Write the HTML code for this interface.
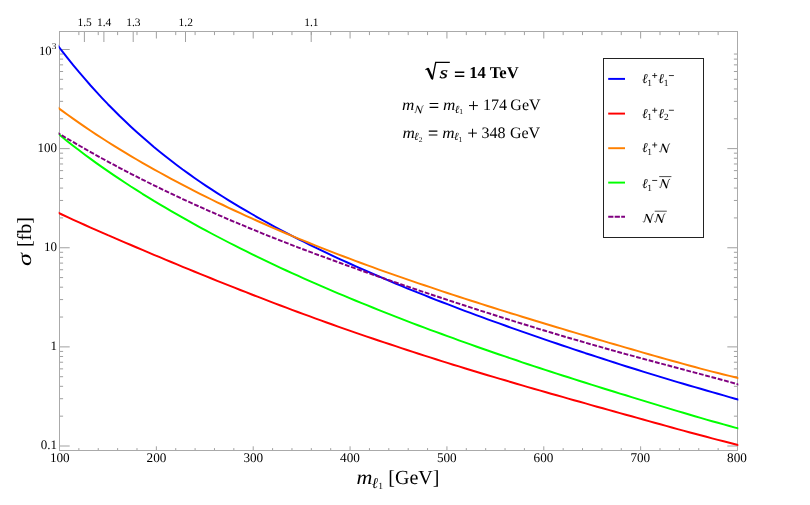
<!DOCTYPE html>
<html><head><meta charset="utf-8"><title>plot</title>
<style>html,body{margin:0;padding:0;background:#fff}svg{display:block;will-change:transform}text{text-rendering:geometricPrecision}text{font-family:"Liberation Serif",serif;fill:#000}.i{font-style:italic}.b{font-weight:bold}</style></head>
<body>
<svg width="810" height="505" viewBox="0 0 810 505">
<rect width="810" height="505" fill="#fff"/>
<defs><clipPath id="c"><rect x="58.7" y="31.5" width="679.6" height="419.0"/></clipPath>
<g id="N"><path d="M0.2 -0.9C0.6 -0.1 1.3 -0.1 1.7 -1.2L3.6 -8.9" fill="none" stroke="#000" stroke-width="0.75" stroke-linecap="round"/><path d="M2.9 -9.3L4.6 -9.3L8.6 -0.6L7.9 0.2L7.2 0.2Z" fill="#000"/><path d="M7.7 0L10.0 -8.3C10.2 -9.0 10.6 -9.3 11.2 -9.4" fill="none" stroke="#000" stroke-width="0.75" stroke-linecap="round"/></g>
</defs>
<path d="M59.50 450.50V446.30M59.50 31.50V38.50M78.87 450.50V448.10M78.87 31.50V35.10M98.24 450.50V448.10M98.24 31.50V35.10M117.61 450.50V448.10M117.61 31.50V35.10M136.99 450.50V448.10M136.99 31.50V35.10M156.36 450.50V446.30M156.36 31.50V38.50M175.73 450.50V448.10M175.73 31.50V35.10M195.10 450.50V448.10M195.10 31.50V35.10M214.47 450.50V448.10M214.47 31.50V35.10M233.84 450.50V448.10M233.84 31.50V35.10M253.21 450.50V446.30M253.21 31.50V38.50M272.59 450.50V448.10M272.59 31.50V35.10M291.96 450.50V448.10M291.96 31.50V35.10M311.33 450.50V448.10M311.33 31.50V35.10M330.70 450.50V448.10M330.70 31.50V35.10M350.07 450.50V446.30M350.07 31.50V38.50M369.44 450.50V448.10M369.44 31.50V35.10M388.81 450.50V448.10M388.81 31.50V35.10M408.19 450.50V448.10M408.19 31.50V35.10M427.56 450.50V448.10M427.56 31.50V35.10M446.93 450.50V446.30M446.93 31.50V38.50M466.30 450.50V448.10M466.30 31.50V35.10M485.67 450.50V448.10M485.67 31.50V35.10M505.04 450.50V448.10M505.04 31.50V35.10M524.41 450.50V448.10M524.41 31.50V35.10M543.79 450.50V446.30M543.79 31.50V38.50M563.16 450.50V448.10M563.16 31.50V35.10M582.53 450.50V448.10M582.53 31.50V35.10M601.90 450.50V448.10M601.90 31.50V35.10M621.27 450.50V448.10M621.27 31.50V35.10M640.64 450.50V446.30M640.64 31.50V38.50M660.01 450.50V448.10M660.01 31.50V35.10M679.39 450.50V448.10M679.39 31.50V35.10M698.76 450.50V448.10M698.76 31.50V35.10M718.13 450.50V448.10M718.13 31.50V35.10M737.50 450.50V446.30M737.50 31.50V38.50M84.40 31.50V42.00M103.90 31.50V42.00M133.20 31.50V42.00M185.50 31.50V42.00M311.20 31.50V42.00M59.50 446.00H69.70M737.50 446.00H727.30M59.50 416.16H63.10M737.50 416.16H733.90M59.50 398.71H63.10M737.50 398.71H733.90M59.50 386.32H63.10M737.50 386.32H733.90M59.50 376.71H63.10M737.50 376.71H733.90M59.50 368.87H63.10M737.50 368.87H733.90M59.50 362.23H63.10M737.50 362.23H733.90M59.50 356.48H63.10M737.50 356.48H733.90M59.50 351.41H63.10M737.50 351.41H733.90M59.50 346.88H69.70M737.50 346.88H727.30M59.50 317.04H63.10M737.50 317.04H733.90M59.50 299.58H63.10M737.50 299.58H733.90M59.50 287.20H63.10M737.50 287.20H733.90M59.50 277.59H63.10M737.50 277.59H733.90M59.50 269.74H63.10M737.50 269.74H733.90M59.50 263.10H63.10M737.50 263.10H733.90M59.50 257.36H63.10M737.50 257.36H733.90M59.50 252.29H63.10M737.50 252.29H733.90M59.50 247.75H69.70M737.50 247.75H727.30M59.50 217.91H63.10M737.50 217.91H733.90M59.50 200.46H63.10M737.50 200.46H733.90M59.50 188.07H63.10M737.50 188.07H733.90M59.50 178.46H63.10M737.50 178.46H733.90M59.50 170.62H63.10M737.50 170.62H733.90M59.50 163.98H63.10M737.50 163.98H733.90M59.50 158.23H63.10M737.50 158.23H733.90M59.50 153.16H63.10M737.50 153.16H733.90M59.50 148.62H69.70M737.50 148.62H727.30M59.50 118.79H63.10M737.50 118.79H733.90M59.50 101.33H63.10M737.50 101.33H733.90M59.50 88.95H63.10M737.50 88.95H733.90M59.50 79.34H63.10M737.50 79.34H733.90M59.50 71.49H63.10M737.50 71.49H733.90M59.50 64.85H63.10M737.50 64.85H733.90M59.50 59.11H63.10M737.50 59.11H733.90M59.50 54.04H63.10M737.50 54.04H733.90M59.50 49.50H69.70" stroke="#a0a0a0" stroke-width="1" fill="none"/>
<rect x="59.5" y="31.5" width="678.0" height="419.0" fill="none" stroke="#aaaaaa" stroke-width="1"/>
<g clip-path="url(#c)" fill="none" stroke-width="1.95" stroke-linejoin="round">
<path d="M56.1 43.3 L61.9 50.8 L67.6 58.1 L73.4 65.3 L79.1 72.2 L84.9 78.9 L90.6 85.5 L96.4 91.9 L102.1 98.1 L107.9 104.2 L113.7 110.0 L119.4 115.8 L125.2 121.3 L130.9 126.7 L136.7 132.0 L142.4 137.1 L148.2 142.1 L153.9 147.0 L159.7 151.7 L165.4 156.3 L171.2 160.8 L177.0 165.2 L182.7 169.5 L188.5 173.6 L194.2 177.7 L200.0 181.7 L205.7 185.6 L211.5 189.4 L217.2 193.1 L223.0 196.8 L228.7 200.4 L234.5 203.9 L240.3 207.3 L246.0 210.7 L251.8 214.0 L257.5 217.3 L263.3 220.5 L269.0 223.7 L274.8 226.8 L280.5 229.9 L286.3 232.9 L292.0 235.8 L297.8 238.8 L303.6 241.7 L309.3 244.5 L315.1 247.3 L320.8 250.1 L326.6 252.9 L332.3 255.6 L338.1 258.3 L343.8 260.9 L349.6 263.5 L355.3 266.1 L361.1 268.7 L366.9 271.2 L372.6 273.7 L378.4 276.2 L384.1 278.7 L389.9 281.1 L395.6 283.5 L401.4 285.9 L407.1 288.3 L412.9 290.6 L418.6 292.9 L424.4 295.2 L430.1 297.5 L435.9 299.8 L441.7 302.0 L447.4 304.2 L453.2 306.4 L458.9 308.6 L464.7 310.8 L470.4 312.9 L476.2 315.1 L481.9 317.2 L487.7 319.3 L493.4 321.4 L499.2 323.4 L505.0 325.5 L510.7 327.6 L516.5 329.6 L522.2 331.6 L528.0 333.6 L533.7 335.6 L539.5 337.6 L545.2 339.6 L551.0 341.6 L556.7 343.5 L562.5 345.5 L568.3 347.4 L574.0 349.3 L579.8 351.2 L585.5 353.2 L591.3 355.0 L597.0 356.9 L602.8 358.8 L608.5 360.7 L614.3 362.5 L620.0 364.4 L625.8 366.2 L631.6 368.0 L637.3 369.8 L643.1 371.6 L648.8 373.4 L654.6 375.1 L660.3 376.9 L666.1 378.6 L671.8 380.4 L677.6 382.1 L683.3 383.8 L689.1 385.5 L694.9 387.1 L700.6 388.8 L706.4 390.5 L712.1 392.1 L717.9 393.8 L723.6 395.4 L729.4 397.1 L735.1 398.7 L740.9 400.4" stroke="#0000ff"/>
<path d="M56.1 211.8 L61.9 214.5 L67.6 217.2 L73.4 219.8 L79.1 222.4 L84.9 225.0 L90.6 227.6 L96.4 230.1 L102.1 232.6 L107.9 235.2 L113.7 237.6 L119.4 240.1 L125.2 242.6 L130.9 245.0 L136.7 247.5 L142.4 249.9 L148.2 252.4 L153.9 254.8 L159.7 257.2 L165.4 259.6 L171.2 262.0 L177.0 264.4 L182.7 266.8 L188.5 269.1 L194.2 271.5 L200.0 273.8 L205.7 276.2 L211.5 278.5 L217.2 280.8 L223.0 283.1 L228.7 285.4 L234.5 287.7 L240.3 290.0 L246.0 292.2 L251.8 294.5 L257.5 296.7 L263.3 298.9 L269.0 301.1 L274.8 303.3 L280.5 305.5 L286.3 307.7 L292.0 309.8 L297.8 312.0 L303.6 314.1 L309.3 316.2 L315.1 318.3 L320.8 320.4 L326.6 322.5 L332.3 324.5 L338.1 326.6 L343.8 328.6 L349.6 330.6 L355.3 332.6 L361.1 334.6 L366.9 336.6 L372.6 338.5 L378.4 340.5 L384.1 342.4 L389.9 344.3 L395.6 346.2 L401.4 348.1 L407.1 350.0 L412.9 351.9 L418.6 353.7 L424.4 355.6 L430.1 357.4 L435.9 359.2 L441.7 361.1 L447.4 362.9 L453.2 364.7 L458.9 366.4 L464.7 368.2 L470.4 370.0 L476.2 371.7 L481.9 373.5 L487.7 375.2 L493.4 376.9 L499.2 378.6 L505.0 380.3 L510.7 382.0 L516.5 383.7 L522.2 385.4 L528.0 387.1 L533.7 388.7 L539.5 390.4 L545.2 392.0 L551.0 393.7 L556.7 395.3 L562.5 396.9 L568.3 398.6 L574.0 400.2 L579.8 401.8 L585.5 403.4 L591.3 405.1 L597.0 406.7 L602.8 408.3 L608.5 409.9 L614.3 411.5 L620.0 413.1 L625.8 414.7 L631.6 416.3 L637.3 417.9 L643.1 419.5 L648.8 421.1 L654.6 422.7 L660.3 424.3 L666.1 425.9 L671.8 427.5 L677.6 429.1 L683.3 430.6 L689.1 432.2 L694.9 433.8 L700.6 435.3 L706.4 436.8 L712.1 438.4 L717.9 439.9 L723.6 441.3 L729.4 442.8 L735.1 444.2 L740.9 445.6" stroke="#ff0000"/>
<path d="M56.1 106.3 L61.9 110.6 L67.6 114.8 L73.4 118.9 L79.1 122.9 L84.9 126.9 L90.6 130.7 L96.4 134.6 L102.1 138.3 L107.9 142.0 L113.7 145.6 L119.4 149.1 L125.2 152.6 L130.9 156.1 L136.7 159.5 L142.4 162.8 L148.2 166.1 L153.9 169.3 L159.7 172.5 L165.4 175.7 L171.2 178.8 L177.0 181.9 L182.7 184.9 L188.5 187.9 L194.2 190.8 L200.0 193.8 L205.7 196.6 L211.5 199.5 L217.2 202.3 L223.0 205.0 L228.7 207.8 L234.5 210.5 L240.3 213.2 L246.0 215.8 L251.8 218.4 L257.5 221.0 L263.3 223.5 L269.0 226.1 L274.8 228.6 L280.5 231.0 L286.3 233.5 L292.0 235.9 L297.8 238.3 L303.6 240.6 L309.3 243.0 L315.1 245.3 L320.8 247.6 L326.6 249.8 L332.3 252.1 L338.1 254.3 L343.8 256.5 L349.6 258.7 L355.3 260.8 L361.1 263.0 L366.9 265.1 L372.6 267.2 L378.4 269.3 L384.1 271.3 L389.9 273.4 L395.6 275.4 L401.4 277.4 L407.1 279.4 L412.9 281.4 L418.6 283.4 L424.4 285.3 L430.1 287.2 L435.9 289.2 L441.7 291.1 L447.4 293.0 L453.2 294.9 L458.9 296.7 L464.7 298.6 L470.4 300.5 L476.2 302.3 L481.9 304.1 L487.7 306.0 L493.4 307.8 L499.2 309.6 L505.0 311.4 L510.7 313.2 L516.5 314.9 L522.2 316.7 L528.0 318.5 L533.7 320.2 L539.5 322.0 L545.2 323.7 L551.0 325.5 L556.7 327.2 L562.5 328.9 L568.3 330.7 L574.0 332.4 L579.8 334.1 L585.5 335.8 L591.3 337.5 L597.0 339.2 L602.8 340.9 L608.5 342.6 L614.3 344.3 L620.0 345.9 L625.8 347.6 L631.6 349.3 L637.3 350.9 L643.1 352.6 L648.8 354.2 L654.6 355.9 L660.3 357.5 L666.1 359.1 L671.8 360.7 L677.6 362.3 L683.3 363.9 L689.1 365.5 L694.9 367.0 L700.6 368.6 L706.4 370.1 L712.1 371.6 L717.9 373.0 L723.6 374.5 L729.4 375.9 L735.1 377.2 L740.9 378.6" stroke="#ff8000"/>
<path d="M56.1 131.9 L61.9 136.7 L67.6 141.4 L73.4 145.9 L79.1 150.3 L84.9 154.7 L90.6 158.9 L96.4 163.1 L102.1 167.1 L107.9 171.1 L113.7 175.1 L119.4 178.9 L125.2 182.7 L130.9 186.5 L136.7 190.1 L142.4 193.8 L148.2 197.3 L153.9 200.9 L159.7 204.3 L165.4 207.7 L171.2 211.1 L177.0 214.4 L182.7 217.7 L188.5 220.9 L194.2 224.1 L200.0 227.3 L205.7 230.4 L211.5 233.5 L217.2 236.5 L223.0 239.5 L228.7 242.5 L234.5 245.4 L240.3 248.4 L246.0 251.2 L251.8 254.1 L257.5 256.9 L263.3 259.6 L269.0 262.4 L274.8 265.1 L280.5 267.8 L286.3 270.5 L292.0 273.1 L297.8 275.7 L303.6 278.3 L309.3 280.8 L315.1 283.4 L320.8 285.9 L326.6 288.4 L332.3 290.8 L338.1 293.3 L343.8 295.7 L349.6 298.1 L355.3 300.5 L361.1 302.8 L366.9 305.2 L372.6 307.5 L378.4 309.8 L384.1 312.1 L389.9 314.4 L395.6 316.6 L401.4 318.9 L407.1 321.1 L412.9 323.3 L418.6 325.5 L424.4 327.6 L430.1 329.8 L435.9 331.9 L441.7 334.0 L447.4 336.1 L453.2 338.2 L458.9 340.3 L464.7 342.4 L470.4 344.4 L476.2 346.5 L481.9 348.5 L487.7 350.5 L493.4 352.5 L499.2 354.5 L505.0 356.4 L510.7 358.4 L516.5 360.3 L522.2 362.3 L528.0 364.2 L533.7 366.1 L539.5 368.0 L545.2 369.9 L551.0 371.7 L556.7 373.6 L562.5 375.5 L568.3 377.3 L574.0 379.2 L579.8 381.0 L585.5 382.8 L591.3 384.6 L597.0 386.4 L602.8 388.2 L608.5 390.0 L614.3 391.8 L620.0 393.6 L625.8 395.3 L631.6 397.1 L637.3 398.9 L643.1 400.6 L648.8 402.4 L654.6 404.1 L660.3 405.9 L666.1 407.6 L671.8 409.4 L677.6 411.1 L683.3 412.8 L689.1 414.5 L694.9 416.2 L700.6 417.9 L706.4 419.6 L712.1 421.2 L717.9 422.8 L723.6 424.4 L729.4 426.0 L735.1 427.6 L740.9 429.1" stroke="#00ff00"/>
<path d="M56.1 131.9 L61.9 135.4 L67.6 138.8 L73.4 142.2 L79.1 145.5 L84.9 148.8 L90.6 152.1 L96.4 155.3 L102.1 158.5 L107.9 161.6 L113.7 164.7 L119.4 167.8 L125.2 170.8 L130.9 173.8 L136.7 176.7 L142.4 179.6 L148.2 182.5 L153.9 185.3 L159.7 188.1 L165.4 190.9 L171.2 193.7 L177.0 196.4 L182.7 199.1 L188.5 201.7 L194.2 204.3 L200.0 206.9 L205.7 209.5 L211.5 212.0 L217.2 214.5 L223.0 217.0 L228.7 219.5 L234.5 221.9 L240.3 224.3 L246.0 226.7 L251.8 229.1 L257.5 231.4 L263.3 233.8 L269.0 236.1 L274.8 238.3 L280.5 240.6 L286.3 242.8 L292.0 245.1 L297.8 247.3 L303.6 249.5 L309.3 251.6 L315.1 253.8 L320.8 255.9 L326.6 258.0 L332.3 260.1 L338.1 262.2 L343.8 264.3 L349.6 266.4 L355.3 268.4 L361.1 270.5 L366.9 272.5 L372.6 274.5 L378.4 276.5 L384.1 278.5 L389.9 280.5 L395.6 282.5 L401.4 284.5 L407.1 286.4 L412.9 288.4 L418.6 290.3 L424.4 292.2 L430.1 294.2 L435.9 296.1 L441.7 298.0 L447.4 299.9 L453.2 301.8 L458.9 303.6 L464.7 305.5 L470.4 307.4 L476.2 309.2 L481.9 311.1 L487.7 312.9 L493.4 314.7 L499.2 316.6 L505.0 318.4 L510.7 320.2 L516.5 322.0 L522.2 323.8 L528.0 325.5 L533.7 327.3 L539.5 329.1 L545.2 330.8 L551.0 332.5 L556.7 334.3 L562.5 336.0 L568.3 337.7 L574.0 339.4 L579.8 341.0 L585.5 342.7 L591.3 344.4 L597.0 346.0 L602.8 347.6 L608.5 349.3 L614.3 350.9 L620.0 352.5 L625.8 354.1 L631.6 355.6 L637.3 357.2 L643.1 358.8 L648.8 360.3 L654.6 361.9 L660.3 363.4 L666.1 364.9 L671.8 366.5 L677.6 368.0 L683.3 369.5 L689.1 371.1 L694.9 372.6 L700.6 374.1 L706.4 375.7 L712.1 377.2 L717.9 378.8 L723.6 380.3 L729.4 381.9 L735.1 383.5 L740.9 385.2" stroke="#800080" stroke-dasharray="4.8 1.7"/>
</g>
<text x="84.6" y="25.9" font-size="11.5" text-anchor="middle">1.5</text>
<text x="104.1" y="25.9" font-size="11.5" text-anchor="middle">1.4</text>
<text x="133.4" y="25.9" font-size="11.5" text-anchor="middle">1.3</text>
<text x="185.7" y="25.9" font-size="11.5" text-anchor="middle">1.2</text>
<text x="311.4" y="25.9" font-size="11.5" text-anchor="middle">1.1</text>
<text x="59.8" y="462.1" font-size="13.2" text-anchor="middle">100</text>
<text x="156.5" y="462.1" font-size="13.2" text-anchor="middle">200</text>
<text x="253.3" y="462.1" font-size="13.2" text-anchor="middle">300</text>
<text x="350.0" y="462.1" font-size="13.2" text-anchor="middle">400</text>
<text x="446.8" y="462.1" font-size="13.2" text-anchor="middle">500</text>
<text x="543.5" y="462.1" font-size="13.2" text-anchor="middle">600</text>
<text x="640.3" y="462.1" font-size="13.2" text-anchor="middle">700</text>
<text x="737.0" y="462.1" font-size="13.2" text-anchor="middle">800</text>
<text x="57.0" y="151.6" font-size="13" text-anchor="end">100</text>
<text x="57.0" y="250.8" font-size="13" text-anchor="end">10</text>
<text x="57.0" y="349.9" font-size="13" text-anchor="end">1</text>
<text x="57.0" y="449.0" font-size="13" text-anchor="end">0.1</text>
<text x="51.7" y="54.5" font-size="12.7" text-anchor="end">10</text>
<text x="52.0" y="49.3" font-size="8.8">3</text>
<text transform="translate(356.61 483.60) scale(1.100 1)" font-size="20" class="i">m</text>
<text x="371.69" y="488.30" font-size="15" class="i">ℓ</text>
<text x="378.17" y="488.90" font-size="9.5">1</text>
<text x="388.32" y="483.60" font-size="20">[GeV]</text>
<text transform="translate(31.40 265.97) rotate(-90) scale(1.300 1)" font-size="20" class="i">σ</text>
<text transform="translate(31.40 247.08) rotate(-90) scale(1.000 1)" font-size="20">[fb]</text>
<path d="M425.5 69.8L428.2 68.2" fill="none" stroke="#000" stroke-width="1.2"/>
<path d="M427.7 68.2L432.3 78.8" fill="none" stroke="#000" stroke-width="2.4"/>
<path d="M432.3 79.6L435.7 62.4H449.8" fill="none" stroke="#000" stroke-width="1.35"/>
<text stroke="#000" stroke-width="0.2" transform="translate(439.44 78.10) scale(1.300 1)" font-size="16.6" class="i">s</text>
<path d="M454.90 72.25H464.30M454.90 76.15H464.30" stroke="#000" stroke-width="1.50"/>
<text x="469.17" y="78.10" font-size="16.6" class="b">14</text>
<text x="489.74" y="78.10" font-size="16.6" class="b">TeV</text>
<text transform="translate(401.88 109.90) scale(1.070 1)" font-size="16" class="i">m</text>
<use href="#N" transform="translate(414.50 113.00) scale(0.780)"/>
<path d="M429.60 103.50H438.30M429.60 107.40H438.30" stroke="#000" stroke-width="1.10"/>
<text transform="translate(442.88 109.90) scale(1.070 1)" font-size="16" class="i">m</text>
<text x="454.67" y="112.70" font-size="11" class="i">ℓ</text>
<text x="459.24" y="113.90" font-size="7.5">1</text>
<path d="M469.00 105.60H477.90M473.45 101.15V110.05" stroke="#000" stroke-width="1.00"/>
<text x="482.89" y="109.90" font-size="16">174</text>
<text x="510.34" y="109.90" font-size="16">GeV</text>
<text transform="translate(402.38 137.50) scale(1.070 1)" font-size="16" class="i">m</text>
<text x="414.07" y="140.30" font-size="11" class="i">ℓ</text>
<text x="418.67" y="141.50" font-size="7.5">2</text>
<path d="M428.80 131.10H437.40M428.80 135.00H437.40" stroke="#000" stroke-width="1.10"/>
<text transform="translate(442.18 137.50) scale(1.070 1)" font-size="16" class="i">m</text>
<text x="453.97" y="140.30" font-size="11" class="i">ℓ</text>
<text x="458.54" y="141.50" font-size="7.5">1</text>
<path d="M468.20 133.10H476.90M472.55 128.75V137.45" stroke="#000" stroke-width="1.00"/>
<text x="481.53" y="137.50" font-size="16">348</text>
<text x="509.94" y="137.50" font-size="16">GeV</text>
<rect x="603.5" y="58.5" width="100" height="179" fill="#fff" stroke="#222" stroke-width="1"/>
<path d="M608.2 78.9H625" stroke="#0000ff" stroke-width="1.95"/>
<path d="M608.2 113.6H625" stroke="#ff0000" stroke-width="1.95"/>
<path d="M608.2 148.2H625" stroke="#ff8000" stroke-width="1.95"/>
<path d="M608.2 182.6H625" stroke="#00ff00" stroke-width="1.95"/>
<path d="M608.2 216.8H625" stroke="#800080" stroke-width="1.95" stroke-dasharray="5.2 1.3"/>
<text x="642.12" y="83.00" font-size="13.5" class="i">ℓ</text>
<text x="647.17" y="85.60" font-size="9.4">1</text>
<path d="M652.20 75.55H657.20M654.70 73.05V78.05" stroke="#000" stroke-width="0.80"/>
<text x="658.32" y="83.00" font-size="13.5" class="i">ℓ</text>
<text x="663.77" y="85.60" font-size="9.4">1</text>
<path d="M668.90 75.55H673.90" stroke="#000" stroke-width="0.80"/>
<text x="642.12" y="117.70" font-size="13.5" class="i">ℓ</text>
<text x="647.17" y="120.30" font-size="9.4">1</text>
<path d="M652.20 110.25H657.20M654.70 107.75V112.75" stroke="#000" stroke-width="0.80"/>
<text x="658.32" y="117.70" font-size="13.5" class="i">ℓ</text>
<text x="663.89" y="120.30" font-size="9.4">2</text>
<path d="M668.90 110.25H673.90" stroke="#000" stroke-width="0.80"/>
<text x="642.12" y="152.40" font-size="13.5" class="i">ℓ</text>
<text x="647.17" y="155.00" font-size="9.4">1</text>
<path d="M652.20 144.95H657.20M654.70 142.45V147.45" stroke="#000" stroke-width="0.80"/>
<use href="#N" transform="translate(659.30 152.50) scale(0.930)"/>
<text x="642.12" y="187.90" font-size="13.5" class="i">ℓ</text>
<text x="647.17" y="190.50" font-size="9.4">1</text>
<path d="M652.20 180.45H657.20" stroke="#000" stroke-width="0.80"/>
<use href="#N" transform="translate(659.30 188.00) scale(0.930)"/>
<path d="M659.20 176.60H671.40" stroke="#000" stroke-width="0.70"/>
<use href="#N" transform="translate(643.00 222.60) scale(0.930)"/>
<use href="#N" transform="translate(654.50 222.60) scale(0.930)"/>
<path d="M654.70 211.20H666.80" stroke="#000" stroke-width="0.70"/>
</svg></body></html>
